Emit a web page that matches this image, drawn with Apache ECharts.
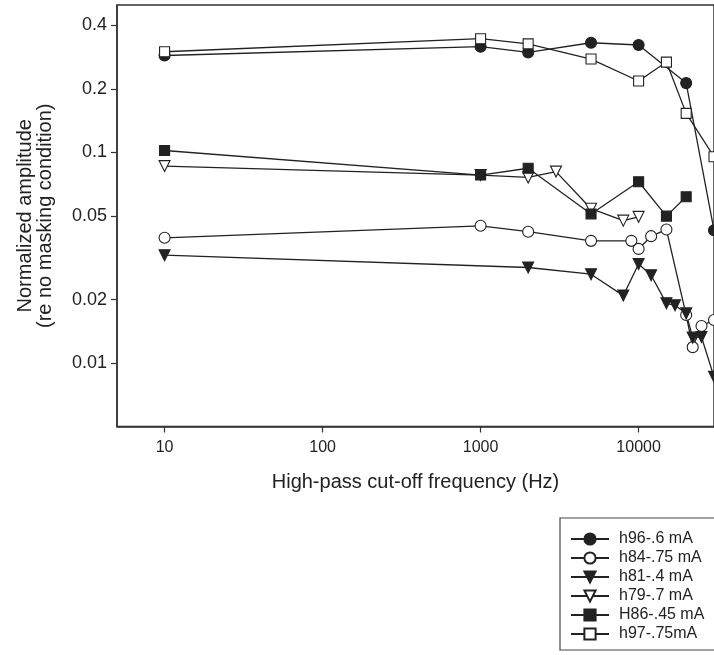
<!DOCTYPE html>
<html>
<head>
<meta charset="utf-8">
<script src="https://cdn.jsdelivr.net/npm/echarts@6/dist/echarts.min.js"></script>
<style>
  html, body { margin: 0; padding: 0; background: #fff; }
  #chart { width: 714px; height: 655px; }
</style>
</head>
<body>
<div id="chart"></div>
<script>
// tick positions
var xTicks = [10, 100, 1000, 10000];
var yTicks = [0.01, 0.02, 0.05, 0.1, 0.2, 0.4];

// series values (frequency in Hz, normalized amplitude)
var freqH96 = [10, 1000, 2000, 5000, 10000, 20000, 30000];
var ampH96 = [0.288, 0.317, 0.298, 0.331, 0.323, 0.213, 0.0427];

var freqH84 = [10, 1000, 2000, 5000, 9000, 10000, 12000, 15000, 20000, 22000, 25000, 30000];
var ampH84 = [0.0393, 0.0448, 0.042, 0.038, 0.038, 0.0348, 0.040, 0.043, 0.0169, 0.0119, 0.0150, 0.0160];

var freqH81 = [10, 2000, 5000, 8000, 10000, 12000, 15000, 17000, 20000, 22000, 25000, 30000];
var ampH81 = [0.0325, 0.0284, 0.0264, 0.0209, 0.0295, 0.0261, 0.0192, 0.0188, 0.0172, 0.0132, 0.0133, 0.0086];

var freqH79 = [10, 1000, 2000, 3000, 5000, 8000, 10000];
var ampH79 = [0.086, 0.078, 0.076, 0.081, 0.054, 0.0474, 0.0494];

var freqH86 = [10, 1000, 2000, 5000, 10000, 15000, 20000];
var ampH86 = [0.102, 0.078, 0.084, 0.051, 0.0725, 0.0498, 0.0615];

var freqH97 = [10, 1000, 2000, 5000, 10000, 15000, 20000, 30000];
var ampH97 = [0.300, 0.346, 0.327, 0.277, 0.218, 0.268, 0.153, 0.0953];

var ink = '#222222';
var font = 'Liberation Sans, Arial, sans-serif';

function pairs(xs, ys) {
    var out = [];
    for (var i = 0; i < xs.length; i++) out.push([xs[i], ys[i]]);
    return out;
}

function fmt(v) {
    return String(+(+v).toPrecision(6));
}

function makeSeries(name, xs, ys, symbol, filled, rotate) {
    return {
        name: name,
        type: 'line',
        data: pairs(xs, ys),
        symbol: symbol,
        symbolSize: symbol === 'rect' ? 10 : 11,
        symbolRotate: rotate || 0,
        showAllSymbol: true,
        clip: false,
        lineStyle: { color: ink, width: 1.3 },
        itemStyle: {
            color: filled ? ink : '#ffffff',
            borderColor: ink,
            borderWidth: 1.1
        },
        emphasis: { disabled: true }
    };
}

var chart = echarts.init(document.getElementById('chart'));

var option = {
    animation: false,
    backgroundColor: '#ffffff',
    textStyle: { fontFamily: font },
    grid: {
        left: 117,
        top: 5,
        width: 600,
        height: 421.5,
        show: true,
        borderColor: '#333333',
        borderWidth: 1.5,
        containLabel: false
    },
    legend: {
        orient: 'vertical',
        left: 560,
        top: 518,
        height: 135,
        padding: [13, 40, 8, 10],
        itemWidth: 38,
        itemHeight: 14,
        itemGap: 3,
        borderColor: '#444444',
        borderWidth: 1.2,
        selectedMode: false,
        textStyle: { fontSize: 16, color: ink, lineHeight: 14, padding: [0, 0, 0, 5], fontFamily: font },
        data: ['h96-.6 mA', 'h84-.75 mA', 'h81-.4 mA', 'h79-.7 mA', 'H86-.45 mA', 'h97-.75mA']
    },
    xAxis: {
        type: 'log',
        logBase: 10,
        min: 5,
        max: 30000,
        name: 'High-pass cut-off frequency (Hz)',
        nameLocation: 'middle',
        nameGap: 46,
        nameTextStyle: { fontSize: 20, color: ink, fontFamily: font },
        axisLine: { show: true, lineStyle: { color: '#333333', width: 1.5 } },
        axisTick: { show: true, length: 6, lineStyle: { color: '#333333', width: 1.2 }, customValues: xTicks },
        axisLabel: { fontSize: 16, color: ink, margin: 13, formatter: fmt, customValues: xTicks },
        splitLine: { show: false },
        minorTick: { show: false }
    },
    yAxis: {
        type: 'log',
        logBase: 10,
        min: 0.005,
        max: 0.5,
        name: 'Normalized amplitude\n(re no masking condition)',
        nameLocation: 'middle',
        nameGap: 62,
        nameRotate: 90,
        nameTextStyle: { fontSize: 20, lineHeight: 20, color: ink, fontFamily: font },
        axisLine: { show: true, lineStyle: { color: '#333333', width: 1.5 } },
        axisTick: { show: true, length: 6, lineStyle: { color: '#333333', width: 1.2 }, customValues: yTicks },
        axisLabel: { fontSize: 18, color: ink, margin: 10, formatter: fmt, customValues: yTicks },
        splitLine: { show: false },
        minorTick: { show: false }
    },
    series: [
        makeSeries('h96-.6 mA', freqH96, ampH96, 'circle', true, 0),
        makeSeries('h84-.75 mA', freqH84, ampH84, 'circle', false, 0),
        makeSeries('h81-.4 mA', freqH81, ampH81, 'triangle', true, 180),
        makeSeries('h79-.7 mA', freqH79, ampH79, 'triangle', false, 180),
        makeSeries('H86-.45 mA', freqH86, ampH86, 'rect', true, 0),
        makeSeries('h97-.75mA', freqH97, ampH97, 'rect', false, 0)
    ]
};

chart.setOption(option);
</script>
</body>
</html>
